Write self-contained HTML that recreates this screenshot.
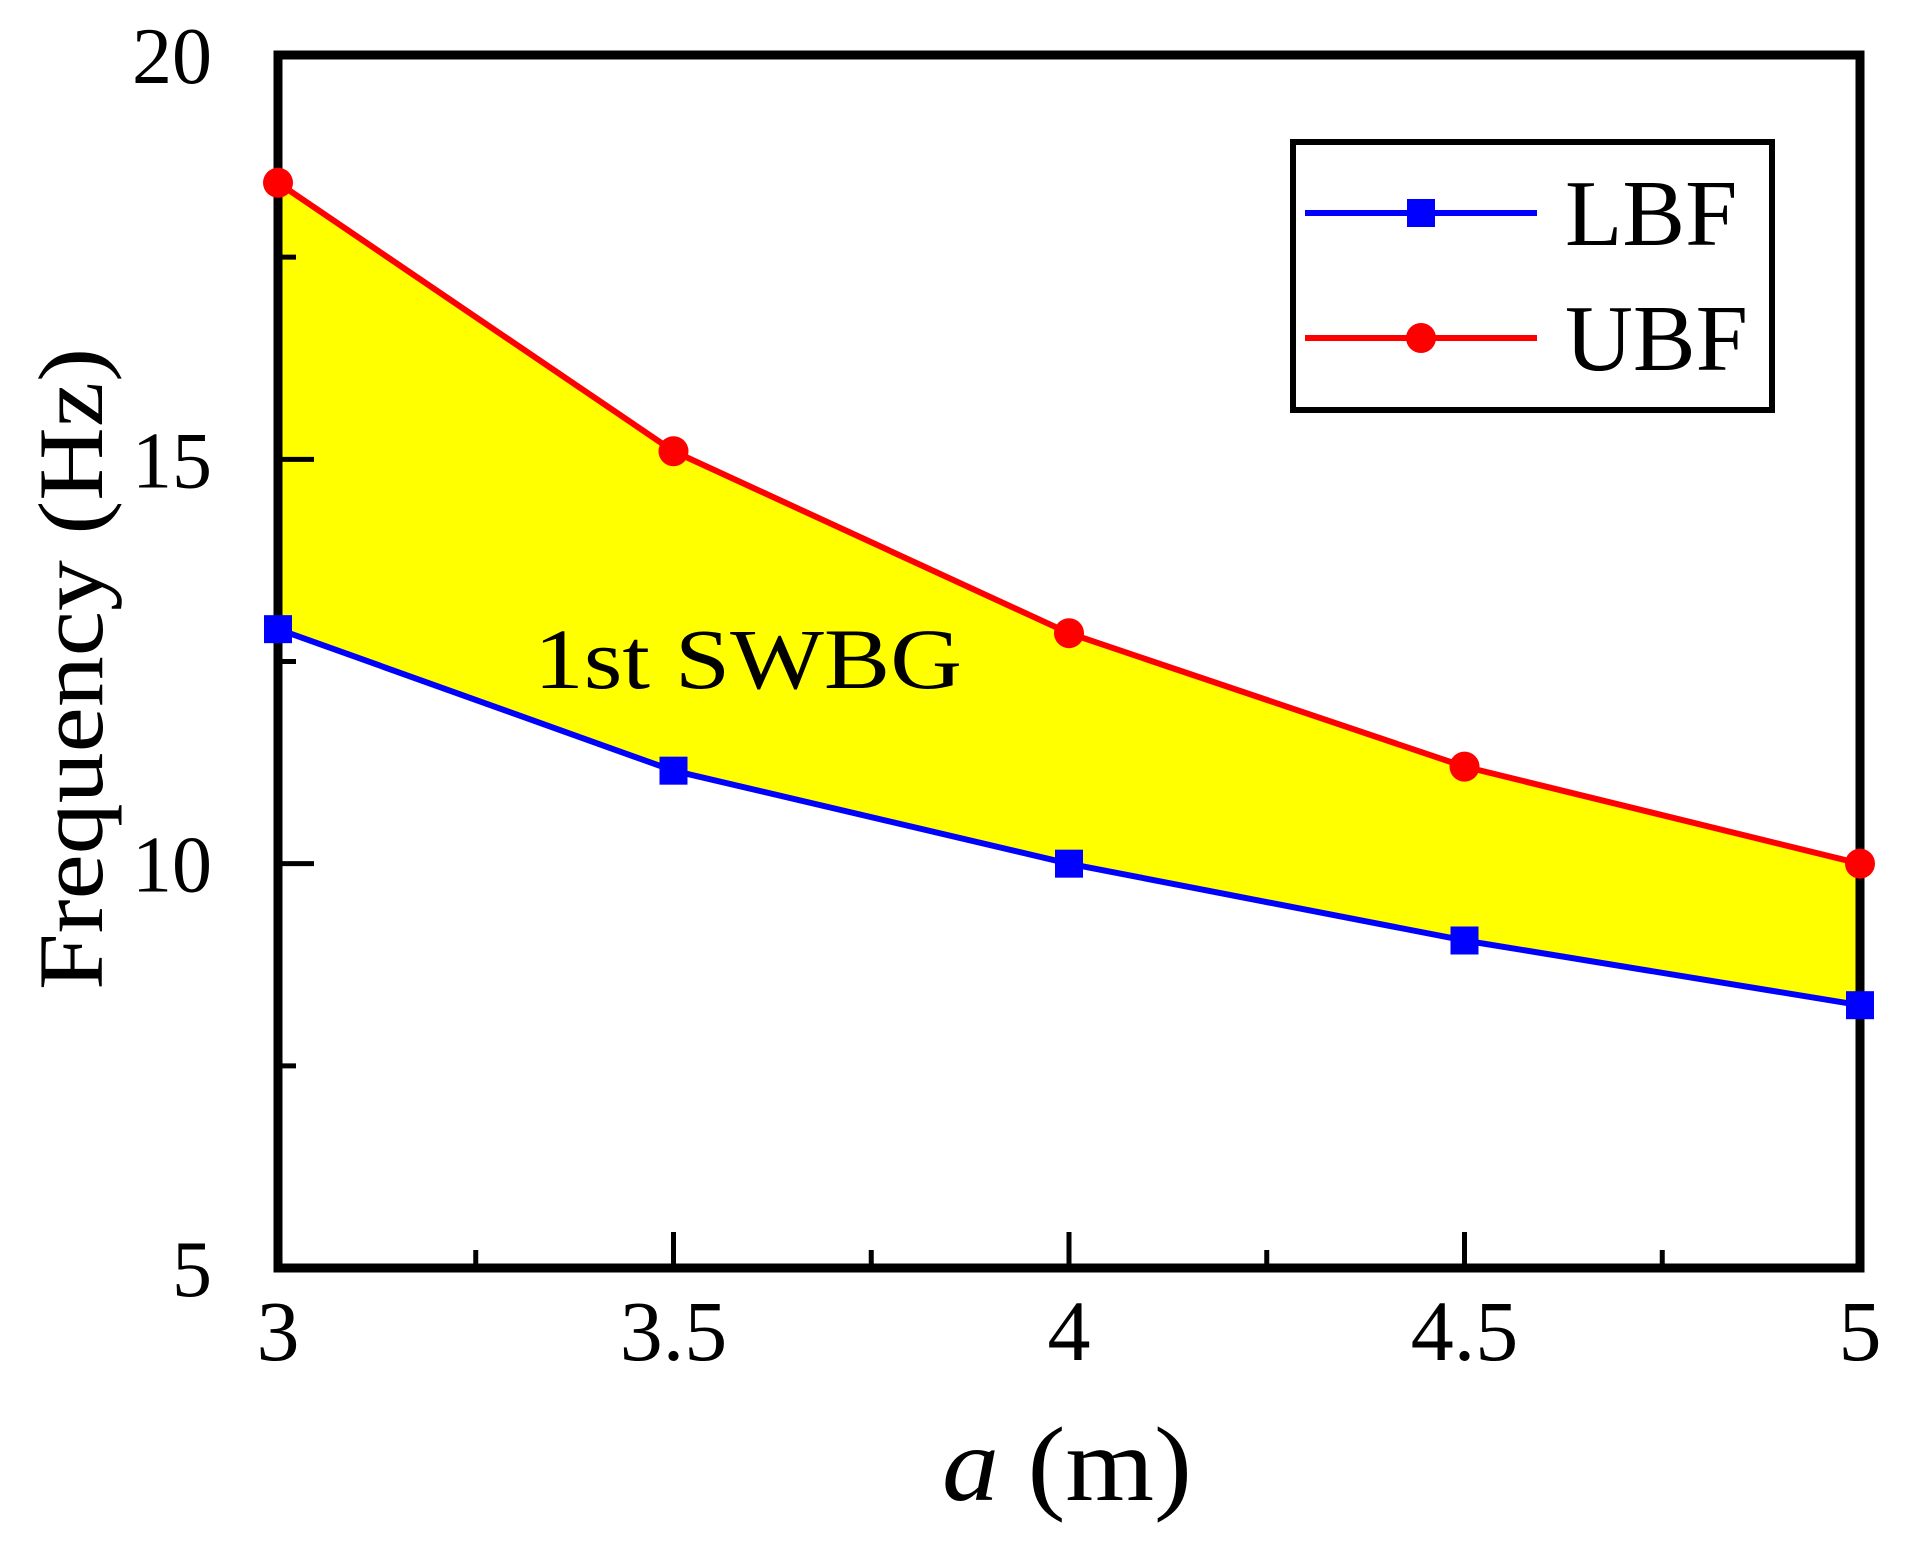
<!DOCTYPE html>
<html><head><meta charset="utf-8"><style>
html,body{margin:0;padding:0;background:#fff;}
svg{display:block;}
text{font-family:"Liberation Serif",serif;fill:#000;}
</style></head><body>
<svg id="chart" width="1906" height="1556" viewBox="0 0 1906 1556" xmlns="http://www.w3.org/2000/svg">
<g id="fill-layer"></g>
<g id="series-layer"></g>
<g id="axes-layer"></g>
<text x="534" y="688" font-size="86" textLength="428" lengthAdjust="spacingAndGlyphs">1st SWBG</text>
<text x="942" y="1500" font-size="106" textLength="250" lengthAdjust="spacingAndGlyphs"><tspan font-style="italic">a</tspan> (m)</text>
<text transform="translate(102,669) rotate(-90)" text-anchor="middle" font-size="92" textLength="642" lengthAdjust="spacingAndGlyphs">Frequency (Hz)</text>
<g>
<rect x="1293" y="142" width="479" height="268" fill="#fff" stroke="#000" stroke-width="6"/>
<g>
<line x1="1305" y1="213" x2="1537" y2="213" stroke="#0000ff" stroke-width="6"/>
<rect x="1407" y="199" width="28" height="28" fill="#0000ff"/>
<text x="1565" y="245" font-size="94">LBF</text>
</g>
<g>
<line x1="1305" y1="338" x2="1537" y2="338" stroke="#ff0000" stroke-width="6"/>
<circle cx="1421" cy="338" r="15" fill="#ff0000"/>
<text x="1565" y="370" font-size="94">UBF</text>
</g>
</g>
</svg>
<script>
const categories = [3, 3.5, 4, 4.5, 5];
const lbfValues = [12.9, 11.15, 10.0, 9.05, 8.25];
const ubfValues = [18.42, 15.1, 12.85, 11.2, 10.0];
const xTickLabels = ["3", "3.5", "4", "4.5", "5"];
const yTickValues = [5, 10, 15, 20];
const yTickLabels = ["5", "10", "15", "20"];

const NS = "http://www.w3.org/2000/svg";
const X0 = 278, X1 = 1860, Y0 = 1268, Y1 = 55;
const xMin = 3, xMax = 5, yMin = 5, yMax = 20;
function xs(v){ return X0 + (v - xMin) / (xMax - xMin) * (X1 - X0); }
function ys(v){ return Y0 - (v - yMin) / (yMax - yMin) * (Y0 - Y1); }
function mk(tag, attrs, parent){
  const e = document.createElementNS(NS, tag);
  for (const k in attrs) e.setAttribute(k, attrs[k]);
  parent.appendChild(e);
  return e;
}
const fillL = document.getElementById('fill-layer');
const serL = document.getElementById('series-layer');
const axL = document.getElementById('axes-layer');

const upPts = categories.map((c,i)=>xs(c)+','+ys(ubfValues[i]));
const loPts = categories.map((c,i)=>xs(c)+','+ys(lbfValues[i])).reverse();
const poly = mk('polygon', {points: upPts.concat(loPts).join(' '), fill:'#ffff00', stroke:'none'}, fillL);



const lbfLine = mk('polyline', {points: categories.map((c,i)=>xs(c)+','+ys(lbfValues[i])).join(' '), fill:'none', stroke:'#0000ff', 'stroke-width':6, 'stroke-linejoin':'round'}, serL);


const ubfLine = mk('polyline', {points: categories.map((c,i)=>xs(c)+','+ys(ubfValues[i])).join(' '), fill:'none', stroke:'#ff0000', 'stroke-width':6, 'stroke-linejoin':'round'}, serL);



const frame = mk('rect', {x:X0, y:Y1, width:X1-X0, height:Y0-Y1, fill:'none', stroke:'#000', 'stroke-width':9}, axL);



for (let v = 3.25; v < 5; v += 0.25) {
  const major = Math.abs(v*2 - Math.round(v*2)) < 1e-6;
  const t = mk('line', {x1:xs(v), x2:xs(v), y1:Y0, y2:Y0-(major?36:18), stroke:'#000', 'stroke-width':5}, axL);
  
  
}
categories.forEach((c,i)=>{
  const t = mk('text', {x:xs(c), y:1360, 'text-anchor':'middle', 'font-size':86}, axL);
  t.textContent = xTickLabels[i];
  
  
});
for (let v = 7.5; v < 20; v += 2.5) {
  const major = Math.abs(v/5 - Math.round(v/5)) < 1e-6;
  const t = mk('line', {x1:X0, x2:X0+(major?36:18), y1:ys(v), y2:ys(v), stroke:'#000', 'stroke-width':5}, axL);
  
  
}
yTickValues.forEach((v,i)=>{
  const t = mk('text', {x:212, y:ys(v)+28, 'text-anchor':'end', 'font-size':80}, axL);
  t.textContent = yTickLabels[i];
  
  
});

categories.forEach((c,i)=>{
  const s = mk('rect', {x:xs(c)-14, y:ys(lbfValues[i])-14, width:28, height:28, fill:'#0000ff'}, axL);
  
  
  const p = mk('circle', {cx:xs(c), cy:ys(ubfValues[i]), r:15, fill:'#ff0000'}, axL);
  
  
});
</script>
</body></html>
